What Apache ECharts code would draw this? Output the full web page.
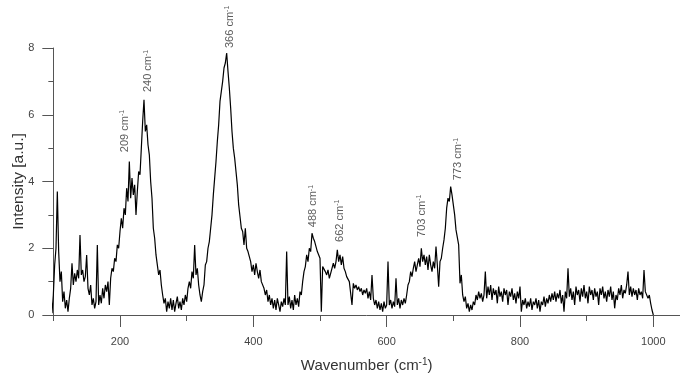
<!DOCTYPE html>
<html><head><meta charset="utf-8">
<script src="https://cdn.jsdelivr.net/npm/echarts@6/dist/echarts.min.js"></script>
<style>html,body{margin:0;padding:0;background:#fff}#c{width:680px;height:373px}</style>
</head><body><div id="c"></div>
<script>
const wavenumber = [
90,92,94,96,98,100,102,104,106,108,
110,112,114,116,118,120,122,124,126,128,
130,132,134,136,138,140,142,144,146,148,
150,152,154,156,158,160,162,164,166,168,
170,172,174,176,178,180,182,184,186,188,
190,192,194,196,198,200,202,204,206,208,
210,212,214,216,218,220,222,224,226,228,
230,232,234,236,238,240,242,244,246,248,
250,252,254,256,258,260,262,264,266,268,
270,272,274,276,278,280,282,284,286,288,
290,292,294,296,298,300,302,304,306,308,
310,312,314,316,318,320,322,324,326,328,
330,332,334,336,338,340,342,344,346,348,
350,352,354,356,358,360,362,364,366,368,
370,372,374,376,378,380,382,384,386,388,
390,392,394,396,398,400,402,404,406,408,
410,412,414,416,418,420,422,424,426,428,
430,432,434,436,438,440,442,444,446,448,
450,452,454,456,458,460,462,464,466,468,
470,472,474,476,478,480,482,484,486,488,
490,492,494,496,498,500,502,504,506,508,
510,512,514,516,518,520,522,524,526,528,
530,532,534,536,538,540,542,544,546,548,
550,552,554,556,558,560,562,564,566,568,
570,572,574,576,578,580,582,584,586,588,
590,592,594,596,598,600,602,604,606,608,
610,612,614,616,618,620,622,624,626,628,
630,632,634,636,638,640,642,644,646,648,
650,652,654,656,658,660,662,664,666,668,
670,672,674,676,678,680,682,684,686,688,
690,692,694,696,698,700,702,704,706,708,
710,712,714,716,718,720,722,724,726,728,
730,732,734,736,738,740,742,744,746,748,
750,752,754,756,758,760,762,764,766,768,
770,772,774,776,778,780,782,784,786,788,
790,792,794,796,798,800,802,804,806,808,
810,812,814,816,818,820,822,824,826,828,
830,832,834,836,838,840,842,844,846,848,
850,852,854,856,858,860,862,864,866,868,
870,872,874,876,878,880,882,884,886,888,
890,892,894,896,898,900,902,904,906,908,
910,912,914,916,918,920,922,924,926,928,
930,932,934,936,938,940,942,944,946,948,
950,952,954,956,958,960,962,964,966,968,
970,972,974,976,978,980,982,984,986,988,
990,992,994,996,998,1000];
const intensity = [
0.3,0.75,0.5,0.8,0.05,0.6,1.5,2.0,3.7,1.9,
1.0,1.3,0.4,0.7,0.2,0.45,0.1,0.5,0.8,1.55,
0.9,1.25,1.0,1.35,1.1,2.4,1.2,1.35,1.0,1.15,
1.8,0.8,0.6,0.9,0.3,0.5,0.2,0.4,2.1,0.3,
0.6,0.35,0.8,0.5,0.9,0.7,1.0,0.3,1.1,1.4,
1.3,1.7,1.6,2.1,2.0,2.5,2.9,2.6,3.2,3.0,
3.8,3.4,4.6,3.5,4.1,3.6,3.9,3.0,3.7,4.3,
4.2,5.0,5.8,6.45,5.5,5.7,5.1,4.8,4.0,3.5,
2.6,2.3,1.8,1.5,1.2,1.35,0.9,0.6,0.35,0.5,
0.1,0.4,0.2,0.5,0.15,0.45,0.1,0.35,0.55,0.2,
0.4,0.15,0.5,0.3,0.6,0.4,0.8,1.0,0.8,1.3,
1.1,2.1,1.2,1.4,0.9,0.6,0.4,0.7,0.9,1.5,
1.6,2.0,2.2,2.6,3.0,3.6,4.1,4.6,5.2,5.7,
6.4,6.7,7.0,7.4,7.55,7.85,7.3,6.8,6.2,5.5,
5.0,4.7,4.3,3.9,3.3,2.95,2.6,2.5,2.1,2.6,
2.0,1.9,1.75,1.6,1.3,1.5,1.2,1.55,1.3,1.1,
1.35,1.0,1.05,0.8,0.6,0.75,0.4,0.6,0.3,0.5,
0.2,0.45,0.15,0.5,0.3,0.1,0.4,0.25,0.5,0.3,
1.9,0.3,0.55,0.2,0.45,0.15,0.6,0.3,0.5,0.25,
0.7,0.6,1.0,1.3,1.45,1.8,1.6,2.0,1.9,2.45,
2.3,2.2,2.05,1.9,1.85,1.7,0.1,1.45,1.5,1.3,
1.2,1.35,1.1,1.25,1.3,1.55,1.4,1.6,1.95,1.6,
1.8,1.5,1.75,1.4,1.3,1.15,1.2,1.0,1.05,0.3,
0.95,0.8,0.9,0.75,0.85,0.7,0.8,0.6,0.75,0.65,
0.8,0.5,0.7,0.45,1.2,0.5,0.3,0.45,0.2,0.4,
0.15,0.35,0.1,0.4,0.2,0.3,1.6,0.3,0.45,0.2,
0.4,0.25,1.1,0.3,0.5,0.2,0.45,0.3,0.5,0.35,
0.6,0.9,1.0,1.3,1.15,1.4,1.6,1.3,1.5,1.7,
1.45,2.0,1.6,1.8,1.5,1.75,1.35,1.8,1.5,1.3,
1.6,1.4,2.05,1.5,0.85,1.6,1.7,2.0,2.25,2.6,
3.2,3.5,3.4,3.85,3.6,3.3,3.0,2.55,2.6,2.1,
0.95,1.2,0.6,0.4,0.55,0.2,0.35,0.1,0.3,0.15,
0.4,0.3,0.6,0.45,0.7,0.5,0.65,0.4,0.6,1.3,
0.5,0.85,0.6,0.9,0.45,0.8,0.6,0.75,0.35,0.85,
0.55,0.7,0.4,0.8,0.6,0.75,0.3,0.7,0.55,0.8,
0.45,0.65,0.35,0.7,0.5,0.85,0.1,0.45,0.3,0.5,
0.2,0.4,0.25,0.5,0.15,0.4,0.3,0.5,0.2,0.45,
0.1,0.4,0.3,0.55,0.25,0.5,0.35,0.6,0.4,0.65,
0.45,0.7,0.4,0.65,0.5,0.75,0.35,0.6,0.1,0.7,
0.5,1.4,0.55,0.8,0.45,0.7,0.3,0.85,0.6,0.75,
0.4,0.8,0.55,0.9,0.5,0.7,0.35,0.85,0.6,0.75,
0.45,0.8,0.55,0.7,0.3,0.8,0.6,0.85,0.5,0.7,
0.4,0.75,0.55,0.85,0.45,0.7,0.2,0.6,0.45,0.8,
0.6,0.9,0.5,0.75,0.65,0.9,1.3,0.6,0.85,0.55,
0.8,0.6,0.75,0.45,0.8,0.6,0.7,0.5,1.35,0.7,
0.65,0.5,0.6,0.35,0.15,0.0];

const peakLabels = ['209', '240', '366', '488', '662', '703', '773'];
const peakLabelX = [207.5, 242.5, 365, 490, 530, 652.5, 707.5];
const peakLabelY = [4.88, 6.68, 8.0, 2.63, 2.19, 2.34, 4.04];

const xMajorTicks = [200, 400, 600, 800, 1000];
const xMinorTicks = [100, 300, 500, 700, 900];

const axisColor = '#555';
const textColor = '#444';
const FONT = 'Liberation Sans, Arial, sans-serif';

const chart = echarts.init(document.getElementById('c'), null, {renderer: 'canvas'});
chart.setOption({
  animation: false,
  backgroundColor: '#fff',
  grid: {left: 53.33, right: 0, top: 48, bottom: 58, containLabel: false, outerBoundsMode: 'none'},
  xAxis: [{
    type: 'value', min: 100, max: 1040,
    name: '{a|Wavenumber (cm}{s|-1}{a|)}',
    nameLocation: 'middle', nameGap: 42, nameMoveOverlap: false,
    nameTextStyle: {rich: {
      a: {fontSize: 15, color: '#333', fontFamily: FONT},
      s: {fontSize: 10, color: '#333', fontFamily: FONT, verticalAlign: 'top', padding: [0, 0, 7, 0]}
    }},
    axisLine: {show: true, onZero: false, lineStyle: {color: axisColor, width: 1}},
    axisTick: {show: true, length: 12, customValues: xMajorTicks, lineStyle: {color: axisColor}},
    axisLabel: {show: true, customValues: xMajorTicks, margin: 21, fontSize: 11, color: textColor, fontFamily: FONT,
      formatter: v => String(v)},
    splitLine: {show: false}
  }, {
    type: 'value', min: 100, max: 1040, position: 'bottom',
    axisLine: {show: false},
    axisTick: {show: true, length: 6, customValues: xMinorTicks, lineStyle: {color: axisColor}},
    axisLabel: {show: false},
    splitLine: {show: false}
  }],
  yAxis: {
    type: 'value', min: 0, max: 8, interval: 2,
    name: 'Intensity [a.u.]', nameLocation: 'middle', nameGap: 27, nameRotate: 90, nameMoveOverlap: false,
    nameTextStyle: {fontSize: 15.5, color: '#333', fontFamily: FONT},
    axisLine: {show: true, lineStyle: {color: axisColor, width: 1}},
    axisTick: {show: true, length: 11, lineStyle: {color: axisColor}},
    minorTick: {show: true, splitNumber: 2, length: 5, lineStyle: {color: axisColor}},
    axisLabel: {margin: 19, fontSize: 11, color: textColor, fontFamily: FONT},
    splitLine: {show: false}, minorSplitLine: {show: false}
  },
  series: [{
    type: 'line',
    data: wavenumber.map((w, i) => [w, intensity[i]]),
    showSymbol: false, symbol: 'none', clip: false,
    lineStyle: {color: '#000', width: 1.2},
    z: 3
  }, {
    type: 'scatter',
    data: peakLabels.map((t, i) => ({value: [peakLabelX[i], peakLabelY[i]], name: t})),
    symbolSize: 0, clip: false, silent: true,
    label: {
      show: true, position: 'inside', rotate: 90, align: 'left', verticalAlign: 'middle',
      formatter: p => '{a|' + p.name + ' cm}{s|-1}',
      rich: {
        a: {fontSize: 11, color: '#333', fontFamily: FONT},
        s: {fontSize: 7, color: '#333', fontFamily: FONT, verticalAlign: 'top', padding: [0, 0, 5, 0]}
      }
    }
  }]
});
</script></body></html>
